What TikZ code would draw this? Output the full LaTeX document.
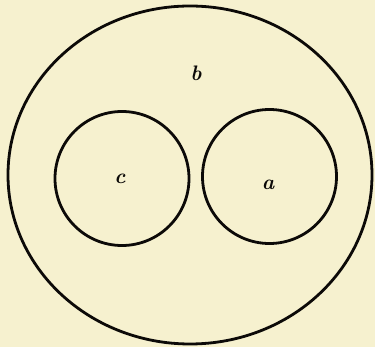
\documentclass[tikz,border=0pt]{standalone}
\definecolor{paper}{RGB}{246,241,207}
\definecolor{ink}{RGB}{12,10,8}
\tikzset{
  ring/.style={draw=ink, line width=2.8pt},
  lbl/.style={font=\fontsize{21}{23}\selectfont\bfseries\itshape, text=ink, inner sep=0pt}
}
\begin{document}
\begin{tikzpicture}[x=1pt,y=-1pt]
  \fill[paper] (0,0) rectangle (375,347);
  \useasboundingbox (0,0) rectangle (375,347);
  \draw[ring] (190,175) ellipse [x radius=182, y radius=169];
  \draw[ring] (122,178.5) circle [radius=67];
  \draw[ring] (269.5,176.5) circle [radius=67];
  \node[lbl] (b) at (196,73) {b};
  \node[lbl] (c) at (120,179) {c};
  \node[lbl] (a) at (268,185) {a};
\end{tikzpicture}
\end{document}
